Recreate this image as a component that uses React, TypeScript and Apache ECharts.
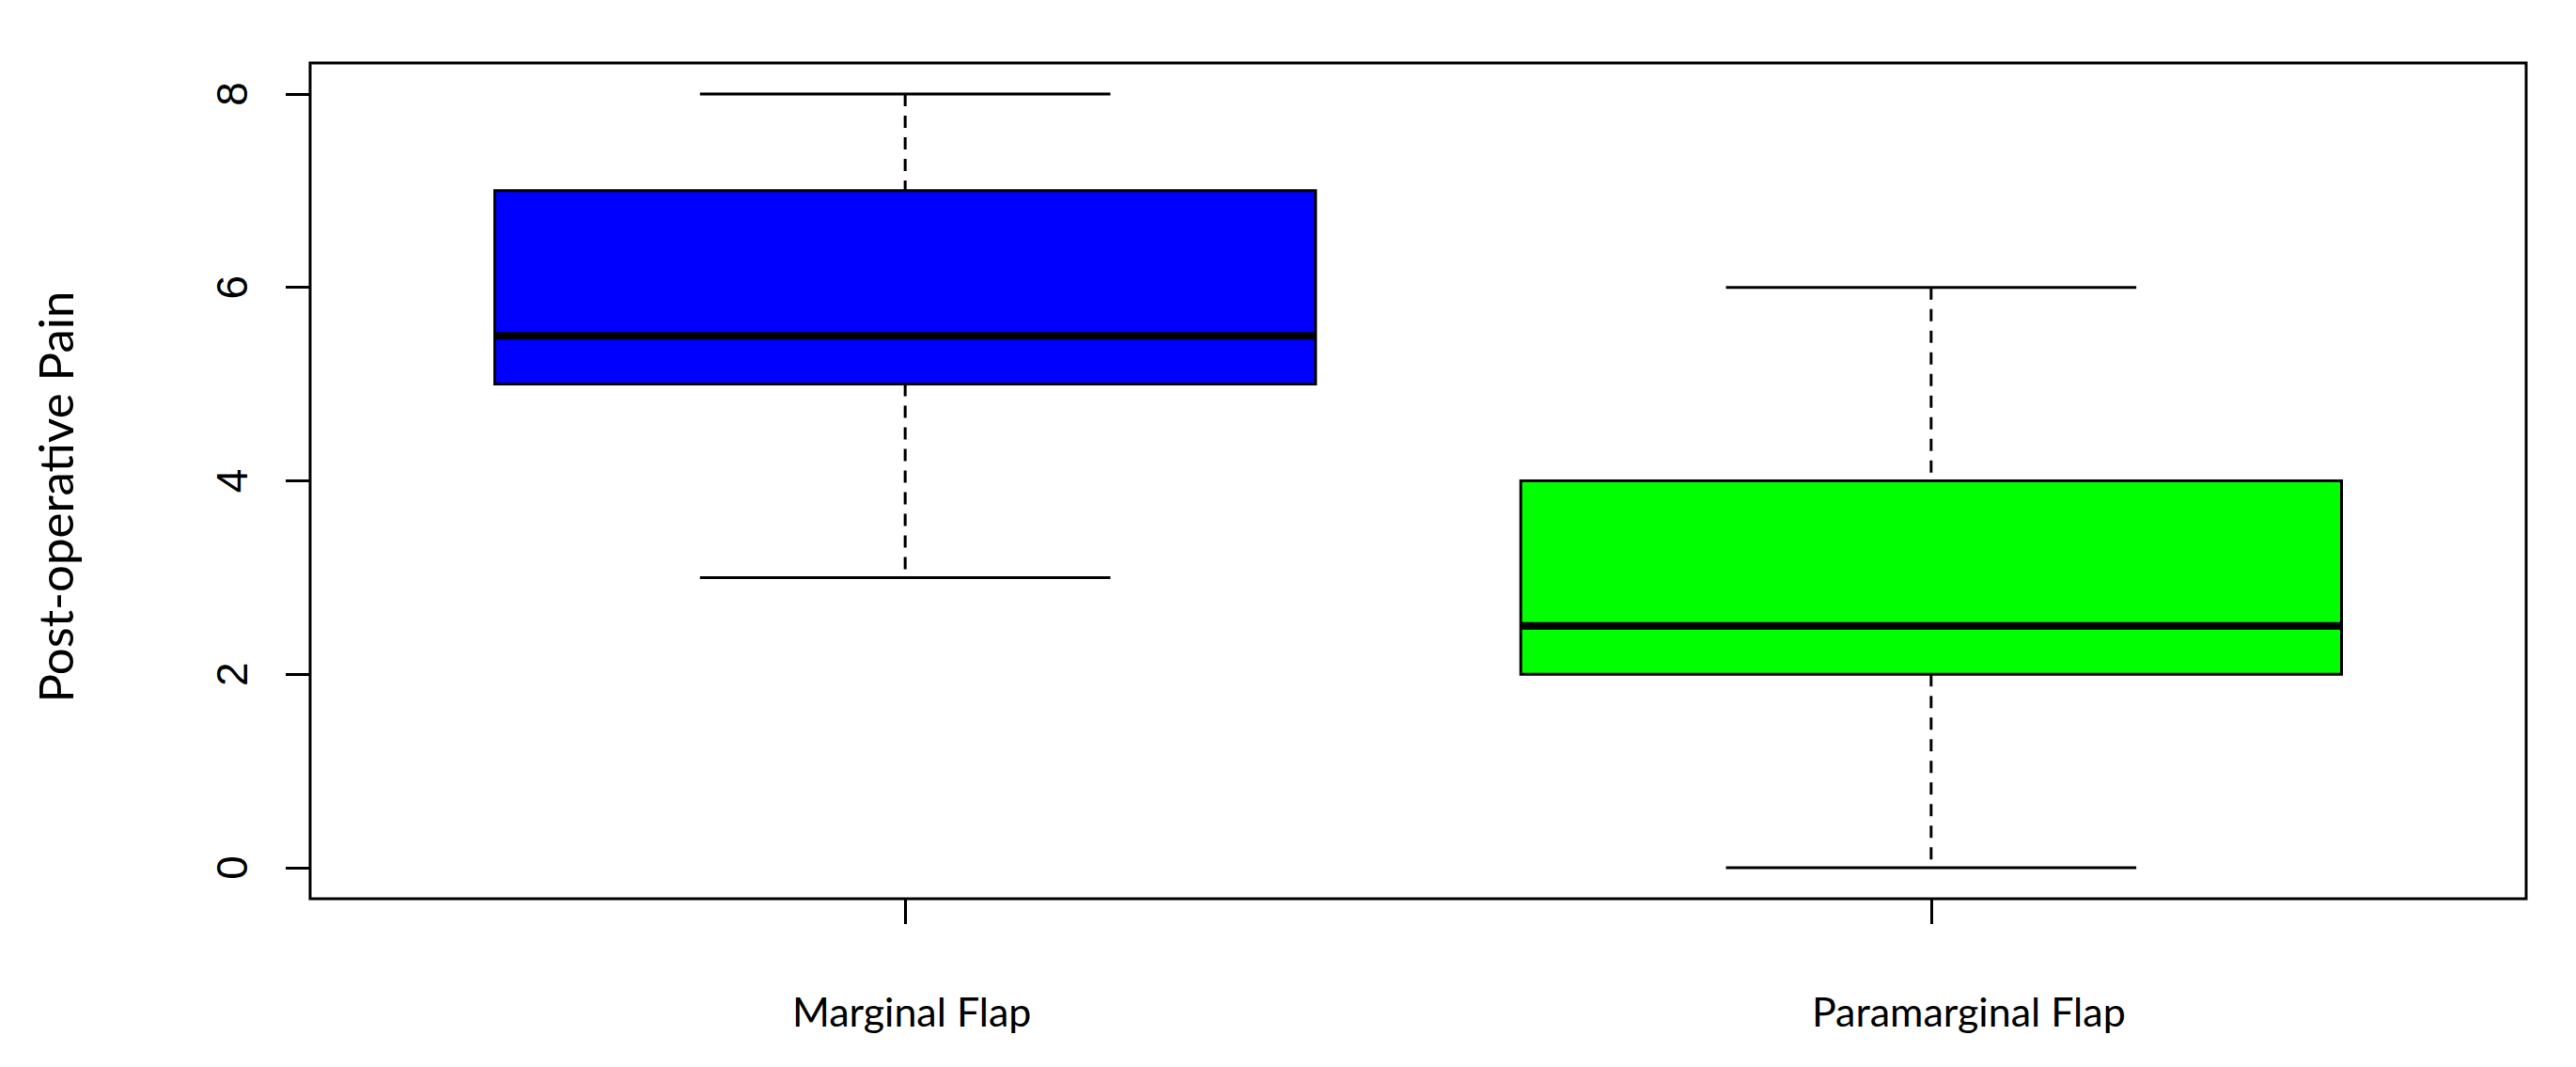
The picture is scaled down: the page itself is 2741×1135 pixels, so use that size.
import React, { useEffect, useRef } from "react";
import * as echarts from "echarts";

const categories = ["Marginal Flap", "Paramarginal Flap"];
const positions = [1, 2];
const mins = [3, 0];
const q1s = [5, 2];
const medians = [5.5, 2.5];
const q3s = [7, 4];
const maxs = [8, 6];
const boxColors = ["#0000FF", "#00FF00"];
const yTicks = [0, 2, 4, 6, 8];
const yTitle = "Post-operative Pain";

const BOX_W = 0.8;
const CAP_W = 0.4;

export default function App() {
  const ref = useRef<HTMLDivElement>(null);
  useEffect(() => {
    if (!ref.current) return;
    const chart = echarts.init(ref.current, null, { renderer: "svg" });
    const data = positions.map((p, i) => [p, mins[i], q1s[i], medians[i], q3s[i], maxs[i]]);
    const labelStyle = { fontFamily: "Lato", fontSize: 43, color: "#000" };
    chart.setOption({
      animation: false,
      backgroundColor: "#FFFFFF",
      grid: {
        left: 330,
        right: 53,
        top: 67,
        bottom: 179,
        show: true,
        borderColor: "#000000",
        borderWidth: 3,
        backgroundColor: "transparent",
      },
      xAxis: {
        type: "value",
        min: 0.42,
        max: 2.58,
        splitLine: { show: false },
        axisLine: { show: false, onZero: false },
        axisTick: {
          show: true,
          inside: false,
          customValues: positions,
          length: 27,
          lineStyle: { color: "#000", width: 3 },
        },
        axisLabel: {
          show: true,
          customValues: positions,
          formatter: (v: number) => {
            const idx = positions.indexOf(Math.round(v));
            return idx >= 0 ? `{c${idx}|${categories[idx]}}` : "";
          },
          margin: 98,
          ...labelStyle,
          rich: {
            c0: { ...labelStyle, padding: [0, 0, 0, 14] },
            c1: { ...labelStyle, padding: [0, 0, 0, 80] },
          },
        },
      },
      yAxis: {
        type: "value",
        min: -0.32,
        max: 8.32,
        splitLine: { show: false },
        axisLine: { show: false, onZero: false },
        axisTick: {
          show: true,
          inside: false,
          customValues: yTicks,
          length: 26,
          lineStyle: { color: "#000", width: 3 },
        },
        axisLabel: {
          show: true,
          customValues: yTicks,
          rotate: 90,
          margin: 60,
          fontFamily: "Liberation Sans Narrow, Liberation Sans",
          fontSize: 46,
          color: "#000",
        },
        name: yTitle,
        nameLocation: "middle",
        nameRotate: 90,
        nameGap: 246,
        nameTextStyle: {
          fontFamily: "Lato",
          fontSize: 51,
          color: "#000",
          padding: [0, 34, 0, 0],
        },
      },
      series: [
        {
          type: "custom",
          data,
          encode: { x: 0, y: [1, 2, 3, 4, 5] },
          clip: false,
          renderItem: (params: any, api: any) => {
            const x = api.value(0);
            const lo = api.value(1);
            const q1 = api.value(2);
            const med = api.value(3);
            const q3 = api.value(4);
            const hi = api.value(5);
            const pLo = api.coord([x, lo]);
            const pQ1 = api.coord([x, q1]);
            const pMed = api.coord([x, med]);
            const pQ3 = api.coord([x, q3]);
            const pHi = api.coord([x, hi]);
            const bw = api.size([BOX_W, 0])[0];
            const cw = api.size([CAP_W, 0])[0];
            const cx = pMed[0];
            const dashStyle = { stroke: "#000", lineWidth: 3, lineDash: [13, 10] };
            const solid = { stroke: "#000", lineWidth: 3 };
            return {
              type: "group",
              children: [
                {
                  type: "line",
                  shape: { x1: cx, y1: pHi[1], x2: cx, y2: pQ3[1] },
                  style: dashStyle,
                },
                {
                  type: "line",
                  shape: { x1: cx, y1: pQ1[1], x2: cx, y2: pLo[1] },
                  style: dashStyle,
                },
                {
                  type: "line",
                  shape: { x1: cx - cw / 2, y1: pHi[1], x2: cx + cw / 2, y2: pHi[1] },
                  style: solid,
                },
                {
                  type: "line",
                  shape: { x1: cx - cw / 2, y1: pLo[1], x2: cx + cw / 2, y2: pLo[1] },
                  style: solid,
                },
                {
                  type: "rect",
                  shape: { x: cx - bw / 2, y: pQ3[1], width: bw, height: pQ1[1] - pQ3[1] },
                  style: { fill: boxColors[params.dataIndex], stroke: "#000", lineWidth: 3 },
                },
                {
                  type: "line",
                  shape: { x1: cx - bw / 2, y1: pMed[1], x2: cx + bw / 2, y2: pMed[1] },
                  style: { stroke: "#000", lineWidth: 8 },
                },
              ],
            };
          },
        },
      ],
    });
    return () => chart.dispose();
  }, []);
  return (
    <div
      ref={ref}
      style={{ position: "fixed", left: 0, top: 0, width: 2741, height: 1135, background: "#fff" }}
    />
  );
}
